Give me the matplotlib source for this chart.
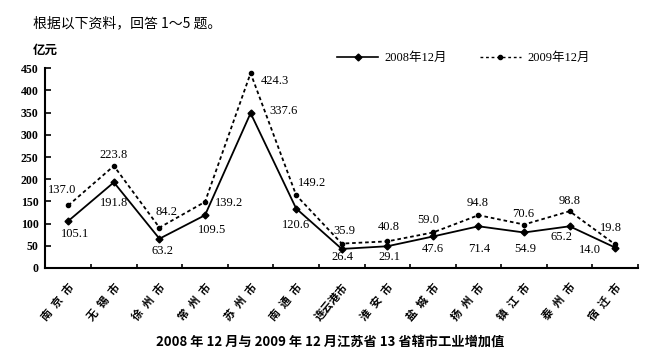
import matplotlib
matplotlib.use("Agg")
import matplotlib.pyplot as plt
from matplotlib.lines import Line2D

plt.rcParams['font.family'] = ['Liberation Serif', 'Noto Sans CJK SC', 'DejaVu Sans']

# =========================
# DATA
# =========================
cities = ["南\u2002京\u2002市", "无\u2002锡\u2002市", "徐\u2002州\u2002市", "常\u2002州\u2002市",
          "苏\u2002州\u2002市", "南\u2002通\u2002市", "连云港市", "淮\u2002安\u2002市",
          "盐\u2002城\u2002市", "扬\u2002州\u2002市", "镇\u2002江\u2002市", "泰\u2002州\u2002市",
          "宿\u2002迁\u2002市"]

# printed values
lab_2008 = ["105.1", "191.8", "63.2", "109.5", "337.6", "120.6", "26.4",
            "29.1", "47.6", "71.4", "54.9", "65.2", "14.0"]
lab_2009 = ["137.0", "223.8", "84.2", "139.2", "424.3", "149.2", "35.9",
            "40.8", "59.0", "94.8", "70.6", "98.8", "19.8"]

# point heights as drawn in the original figure
y_2008 = [106, 193, 66, 119, 349, 134, 43, 49, 71, 94, 80, 94, 46]
y_2009 = [141, 230, 91, 149, 439, 164, 55, 60, 80, 119, 98, 128, 53]

# label offsets (pixels) from the points
off_2008 = [(7, -13), (0, -21), (3, -12), (7, -15), (33, 2), (0, -16), (1, -8),
            (2, -11), (0, -13), (1, -23), (1, -17), (-8, -11), (-25, -2)]
off_2009 = [(-6, 15), (0, 11), (7, 16), (24, -1), (24, -8), (16, 12), (3, 13),
            (1, 14), (-5, 12), (-1, 12), (-1, 11), (0, 10), (-4, 16)]

x = [i + 0.5 for i in range(len(cities))]

# =========================
# PLOT
# =========================
fig = plt.figure(figsize=(6.51, 3.58), dpi=100)
ax = fig.add_axes([45.5 / 651, 1 - 268 / 358, (638 - 45.5) / 651, (268 - 68.3) / 358])

ax.plot(x, y_2008, color="black", lw=1.3, marker="D", ms=3.5, zorder=3)
ax.plot(x, y_2009, color="black", lw=1.3, ls=(0, (2, 1.6)), marker="o", ms=3, zorder=3)

for xi, yi, s, (dx, dy) in zip(x, y_2008, lab_2008, off_2008):
    ax.annotate(s, (xi, yi), xytext=(dx, dy), textcoords="offset pixels",
                ha="center", va="center", fontsize=9, family="Liberation Serif")
for xi, yi, s, (dx, dy) in zip(x, y_2009, lab_2009, off_2009):
    ax.annotate(s, (xi, yi), xytext=(dx, dy), textcoords="offset pixels",
                ha="center", va="center", fontsize=9, family="Liberation Serif")

ax.set_xlim(0, 13)
ax.set_ylim(0, 450)
ax.set_yticks(range(0, 451, 50))
for lbl in ax.get_yticklabels():
    lbl.set_fontweight("bold")
    lbl.set_fontsize(8.5)
ax.tick_params(axis="y", direction="in", length=4, width=1.2, pad=5)

ax.set_xticks(range(1, 14))
ax.set_xticklabels([])
ax.tick_params(axis="x", which="major", direction="in", length=3, width=1.2)

# rotated city names under the axis
for xi, name in zip(x, cities):
    ax.annotate(name, (xi, 0), xycoords=("data", "axes fraction"),
                xytext=(4, -17), textcoords="offset pixels",
                rotation=50, rotation_mode="anchor", ha="right", va="center",
                fontsize=8, fontweight="bold", family=["Noto Sans CJK SC", "DejaVu Sans"])

for side in ["top", "right"]:
    ax.spines[side].set_visible(False)
ax.spines["left"].set_linewidth(1.5)
ax.spines["bottom"].set_linewidth(1.5)

fig.text(33 / 651, 1 - 50 / 358, "亿元", fontsize=9, fontweight="bold",
         family=["Noto Sans CJK SC"], ha="left", va="center")

handles = [
    Line2D([], [], color="black", lw=1.2, marker="D", ms=3.5),
    Line2D([], [], color="black", lw=1.0, ls=(0, (2, 2)), marker="o", ms=3),
]
fig.legend(handles, ["2008年12月", "2009年12月"], loc="center left",
           bbox_to_anchor=(337 / 651, 1 - 58 / 358), bbox_transform=fig.transFigure,
           ncol=2, frameon=False, borderpad=0, borderaxespad=0,
           handlelength=3.3, handletextpad=0.5, columnspacing=2.6,
           prop={"family": ["Liberation Serif", "Noto Sans CJK SC"], "size": 9})

fig.text(33 / 651, 1 - 23 / 358, "根据以下资料，回答 1～5 题。", fontsize=10,
         family=["Noto Sans CJK SC", "DejaVu Sans"], ha="left", va="center")

fig.text(330 / 651, 1 - 342 / 358, "2008 年 12 月与 2009 年 12 月江苏省 13 省辖市工业增加值",
         fontsize=9.5, fontweight="bold", family=["Noto Sans CJK SC", "DejaVu Sans"],
         ha="center", va="center")

fig.savefig("out.png", dpi=100)
